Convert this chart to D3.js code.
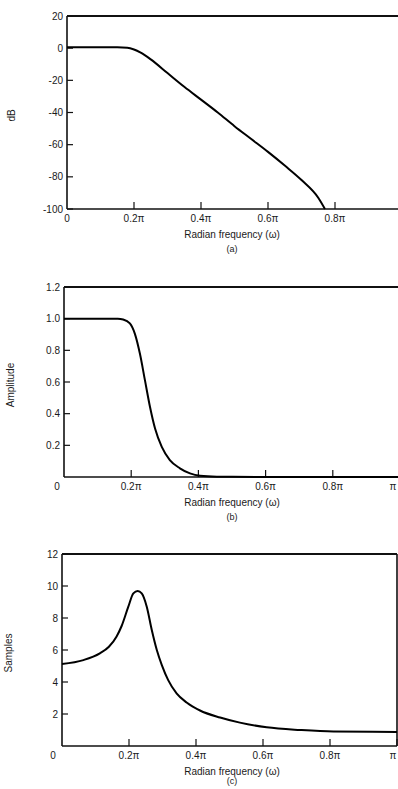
<!DOCTYPE html>
<html lang="en">
<head>
    <meta charset="UTF-8">
    <title>Filter responses</title>
    <style>
        body { margin: 0; background: #fff; }
        svg text { font-family: "Liberation Sans", Arial, sans-serif; fill: #1a1a1a; }
    </style>
    <script src="https://d3js.org/d3.v7.min.js"></script>
</head>
<body>
<div id="chart"></div>
<script>
    // frequency in units of pi
    var xTicks = [0, 0.2, 0.4, 0.6, 0.8, 1.0];
    var xTickLabels = ["0", "0.2\u03c0", "0.4\u03c0", "0.6\u03c0", "0.8\u03c0", "\u03c0"];

    // (a) magnitude in dB
    var omegaA = [0, 0.05, 0.1, 0.15, 0.18, 0.2, 0.22, 0.25, 0.3, 0.35, 0.4, 0.45, 0.5, 0.55, 0.6, 0.65, 0.7, 0.75, 0.77];
    var dbA = [0.5, 0.5, 0.5, 0.5, 0.3, -0.8, -2.8, -7, -15.5, -24, -32, -40, -48.5, -56.5, -64.5, -73, -82, -93, -100];
    var yTicksA = [20, 0, -20, -40, -60, -80, -100];

    // (b) amplitude
    var omegaB = [0, 0.1, 0.16, 0.176, 0.196, 0.211, 0.226, 0.241, 0.256, 0.271, 0.291, 0.315, 0.345, 0.375, 0.405, 0.455, 0.5, 0.6, 0.8, 1.0];
    var ampB = [1.0, 1.0, 1.0, 0.995, 0.97, 0.904, 0.778, 0.61, 0.442, 0.306, 0.19, 0.107, 0.055, 0.023, 0.008, 0.002, 0.001, 0, 0, 0];
    var yTicksB = [1.2, 1.0, 0.8, 0.6, 0.4, 0.2];

    // (c) group delay in samples
    var omegaC = [0, 0.064, 0.113, 0.14, 0.163, 0.178, 0.198, 0.213, 0.226, 0.238, 0.253, 0.268, 0.283, 0.298, 0.317, 0.342, 0.372, 0.412, 0.472, 0.531, 0.611, 0.71, 0.81, 1.0];
    var samplesC = [5.12, 5.37, 5.79, 6.2, 6.85, 7.5, 8.71, 9.54, 9.69, 9.54, 8.71, 7.25, 6.0, 5.06, 4.12, 3.29, 2.72, 2.22, 1.78, 1.46, 1.17, 1.0, 0.9, 0.88];
    var yTicksC = [12, 10, 8, 6, 4, 2];

    var svg = d3.select("#chart").append("svg").attr("width", 398).attr("height", 789);

    var panels = [
        { xs: omegaA, ys: dbA, yTicks: yTicksA, fmt: d => d, domain: [-100, 20], left: 67, right: 402, top: 16, bottom: 209,
          yTitle: "dB", yTitleX: 15, letter: "(a)", zeroDx: 0, nLabels: 5 },
        { xs: omegaB, ys: ampB, yTicks: yTicksB, fmt: d3.format(".1f"), domain: [0, 1.2], left: 64, right: 400, top: 287, bottom: 477,
          yTitle: "Amplitude", yTitleX: 14, letter: "(b)", zeroDx: -7, nLabels: 6 },
        { xs: omegaC, ys: samplesC, yTicks: yTicksC, fmt: d => d, domain: [0, 12], left: 62, right: 397, top: 554, bottom: 746,
          yTitle: "Samples", yTitleX: 12, letter: "(c)", zeroDx: -9, nLabels: 6 }
    ];

    panels.forEach(function(p) {
        var x = d3.scaleLinear().domain([0, 1]).range([p.left, p.right]);
        var y = d3.scaleLinear().domain(p.domain).range([p.bottom, p.top]);
        var g = svg.append("g");

        // frame: left, bottom, top (thick), right
        g.append("line").attr("x1", p.left).attr("x2", p.left).attr("y1", p.top).attr("y2", p.bottom)
            .attr("stroke", "#111").attr("stroke-width", 1.6);
        g.append("line").attr("x1", p.left).attr("x2", p.right).attr("y1", p.bottom).attr("y2", p.bottom)
            .attr("stroke", "#111").attr("stroke-width", 1.6);
        g.append("line").attr("x1", p.left).attr("x2", p.right).attr("y1", p.top).attr("y2", p.top)
            .attr("stroke", "#111").attr("stroke-width", 2.2);
        g.append("line").attr("x1", p.right).attr("x2", p.right).attr("y1", p.top).attr("y2", p.bottom)
            .attr("stroke", "#111").attr("stroke-width", 1.6);

        // y ticks pointing inward
        g.selectAll(".yt").data(p.yTicks).enter().append("line")
            .attr("x1", p.left).attr("x2", p.left + 6)
            .attr("y1", d => y(d)).attr("y2", d => y(d))
            .attr("stroke", "#111").attr("stroke-width", 1.2);
        g.selectAll(".yl").data(p.yTicks).enter().append("text")
            .attr("x", p.left - 4).attr("y", d => y(d) + 3.5)
            .attr("text-anchor", "end").attr("font-size", 10)
            .text(d => p.fmt(d));

        // x ticks pointing inward
        g.selectAll(".xt").data(xTicks.slice(1)).enter().append("line")
            .attr("x1", d => x(d)).attr("x2", d => x(d))
            .attr("y1", p.bottom).attr("y2", p.bottom - 7)
            .attr("stroke", "#111").attr("stroke-width", 1.2);
        g.selectAll(".xl").data(xTicks.slice(0, p.nLabels)).enter().append("text")
            .attr("x", (d, i) => Math.min(x(d) + (i === 0 ? p.zeroDx : 0), 393))
            .attr("y", p.bottom + 13)
            .attr("text-anchor", "middle").attr("font-size", 10)
            .text((d, i) => xTickLabels[i]);

        // curve
        var line = d3.line()
            .x((d, i) => x(p.xs[i]))
            .y(d => y(d))
            .curve(d3.curveMonotoneX);
        g.append("path").datum(p.ys)
            .attr("d", line)
            .attr("fill", "none").attr("stroke", "#000").attr("stroke-width", 2);

        // titles
        g.append("text")
            .attr("x", 232).attr("y", p.bottom + 29)
            .attr("text-anchor", "middle").attr("font-size", 10)
            .text("Radian frequency (\u03c9)");
        g.append("text")
            .attr("x", 232).attr("y", Math.min(p.bottom + 43, 784))
            .attr("text-anchor", "middle").attr("font-size", 9)
            .text(p.letter);
        g.append("text")
            .attr("transform", "translate(" + p.yTitleX + "," + ((p.top + p.bottom) / 2 + 3) + ") rotate(-90)")
            .attr("text-anchor", "middle").attr("font-size", 10)
            .text(p.yTitle);
    });
</script>
</body>
</html>
